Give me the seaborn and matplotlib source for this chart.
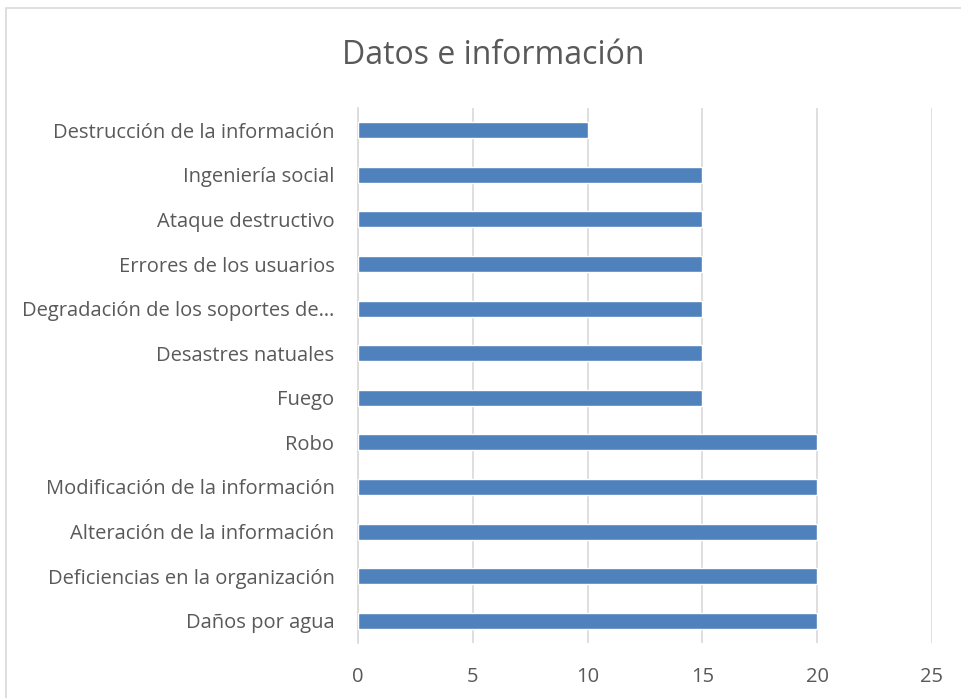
import matplotlib
matplotlib.use("Agg")
import matplotlib.pyplot as plt
import seaborn as sns
import pandas as pd
from matplotlib.patches import Rectangle

categories = [
    "Destrucción de la información",
    "Ingeniería social",
    "Ataque destructivo",
    "Errores de los usuarios",
    "Degradación de los soportes de…",
    "Desastres natuales",
    "Fuego",
    "Robo",
    "Modificación de la información",
    "Alteración de la información",
    "Deficiencias en la organización",
    "Daños por agua",
]
values = [10, 15, 15, 15, 15, 15, 15, 20, 20, 20, 20, 20]
x_ticks = [0, 5, 10, 15, 20, 25]

sns.set_theme(style="white")
plt.rcParams["font.family"] = ["Open Sans", "DejaVu Sans"]

df = pd.DataFrame({"cat": categories, "val": values})

fig = plt.figure(figsize=(9.62, 6.98), dpi=100)
fig.patch.set_facecolor("white")
border = Rectangle((6 / 962, -0.05), 1.2, 1 - 8 / 698 + 0.05, transform=fig.transFigure,
                   fill=False, edgecolor="#D9D9D9", linewidth=1.2, zorder=0)
fig.patches.append(border)

ax = fig.add_axes([358 / 962, 1 - 643 / 698, (932 - 358) / 962, (643 - 108) / 698])
sns.barplot(data=df, x="val", y="cat", order=categories, orient="h",
            color="#4F81BD", saturation=1, width=0.36, ax=ax, zorder=3)

ax.set_xlim(0, 25)
ax.set_ylim(11.5, -0.5)
ax.set_xticks(x_ticks)
ax.set_xticklabels([str(t) for t in x_ticks])
ax.xaxis.grid(True, color="#D9D9D9", linewidth=1.2, zorder=0)
ax.yaxis.grid(False)
for s in ["top", "right", "bottom"]:
    ax.spines[s].set_visible(False)
ax.spines["left"].set_color("#D9D9D9")
ax.spines["left"].set_linewidth(1.2)
ax.set_xlabel("")
ax.set_ylabel("")
ax.tick_params(axis="x", length=0, pad=17, labelsize=14.5, labelcolor="#595959")
ax.tick_params(axis="y", length=0, pad=17, labelsize=14.5, labelcolor="#595959")
ax.set_axisbelow(True)

fig.text(493 / 962, 1 - 56 / 698, "Datos e información", ha="center", va="center",
         fontsize=23, color="#595959")

fig.savefig("out.png", dpi=100)
